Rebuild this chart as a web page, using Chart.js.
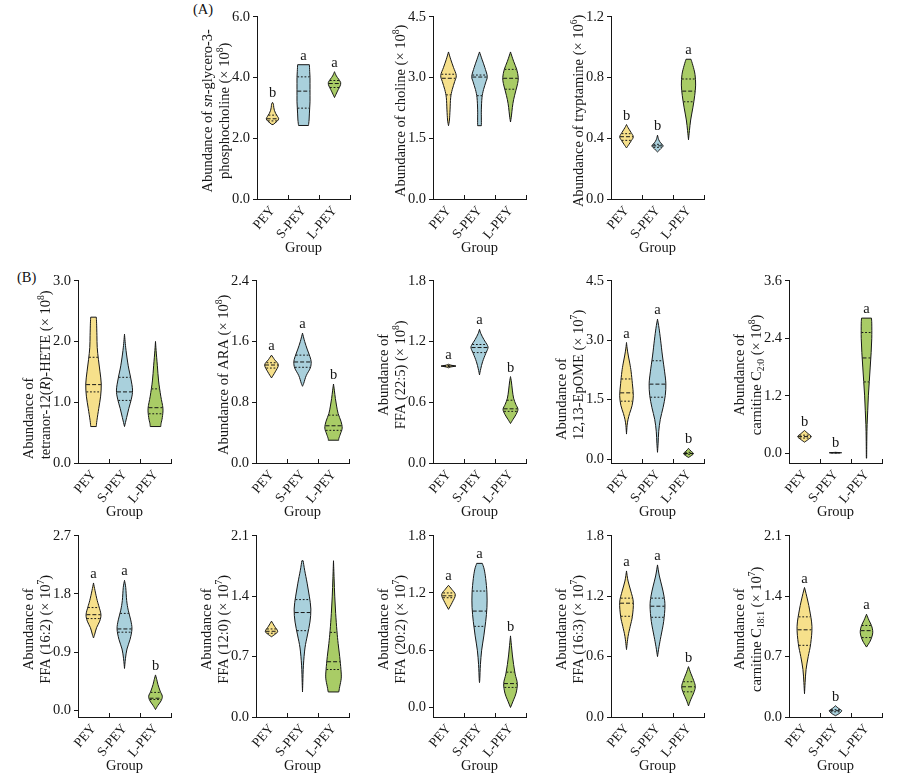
<!DOCTYPE html>
<html><head><meta charset="utf-8">
<script src="https://cdn.jsdelivr.net/npm/chart.js@4.4.0/dist/chart.umd.min.js"></script>
<style>
html,body{margin:0;padding:0;background:#fff;}
#wrap{position:relative;width:900px;height:776px;overflow:hidden;background:#fff;}
#wrap canvas{position:absolute;}
.panel{position:absolute;font:14.5px "Liberation Serif","Times New Roman",serif;color:#111;line-height:16px;}
</style></head><body><div id="wrap">
<div class="panel" style="left:193px;top:1px">(A)</div>
<div class="panel" style="left:17px;top:269px">(B)</div>
</div>
<script>
const FONT = "'Liberation Serif','Times New Roman',serif";
const groups = ['PEY', 'S-PEY', 'L-PEY'];

// (A) sn-glycero-3-phosphocholine
const gpcTitle = ['Abundance of *sn*-glycero-3-', 'phosphocholine (× 10^{8})'];
const gpcRange = [0, 6];
const gpcTicks = [0, 2, 4, 6];
const gpcLevels = [[2.45,2.5,2.56,2.64,2.72,2.82,2.92,3.02,3.12,3.18],[2.42,2.6,2.8,3.0,3.2,3.4,3.6,3.8,4.0,4.2,4.42],[3.34,3.45,3.6,3.72,3.83,3.95,4.05,4.19]];
const gpcWidths = [[0.02,0.08,0.15,0.2,0.16,0.1,0.06,0.04,0.03,0.0],[0.16,0.18,0.19,0.2,0.21,0.21,0.21,0.21,0.21,0.2,0.19],[0.0,0.05,0.12,0.18,0.2,0.13,0.06,0.0]];
const gpcQuartiles = [[2.57,2.64,2.76],[2.99,3.55,4.02],[3.67,3.8,3.9]];
const gpcLetters = ['b','a','a'];

// (A) choline
const chlTitle = ['Abundance of choline (× 10^{8})'];
const chlRange = [0, 4.5];
const chlTicks = [0, 1.5, 3, 4.5];
const chlLevels = [[1.81,1.95,2.2,2.5,2.7,2.9,3.05,3.25,3.45,3.63],[1.81,2.0,2.2,2.5,2.7,2.9,3.03,3.25,3.45,3.63],[1.9,2.05,2.26,2.45,2.67,2.85,3.0,3.2,3.4,3.63]];
const chlWidths = [[0.0,0.03,0.05,0.07,0.12,0.2,0.25,0.16,0.07,0.0],[0.06,0.06,0.06,0.08,0.13,0.21,0.25,0.17,0.08,0.0],[0.0,0.03,0.06,0.1,0.17,0.23,0.25,0.2,0.1,0.0]];
const chlQuartiles = [[2.57,2.98,3.08],[2.55,3.01,3.06],[2.71,2.98,3.2]];
const chlLetters = ['','',''];

// (A) tryptamine
const trpTitle = ['Abundance of tryptamine (× 10^{6})'];
const trpRange = [0, 1.2];
const trpTicks = [0, 0.4, 0.8, 1.2];
const trpLevels = [[0.336,0.36,0.385,0.41,0.44,0.47,0.49],[0.31,0.33,0.35,0.37,0.39,0.42],[0.39,0.45,0.52,0.6,0.68,0.75,0.82,0.88,0.92]];
const trpWidths = [[0.0,0.08,0.16,0.22,0.14,0.05,0.0],[0.0,0.1,0.18,0.1,0.04,0.0],[0.0,0.03,0.07,0.14,0.2,0.23,0.21,0.14,0.08]];
const trpQuartiles = [[0.386,0.41,0.43],[0.34,0.35,0.36],[0.64,0.71,0.79]];
const trpLetters = ['b','b','a'];

// (B) tetranor-12(R)-HETE
const heteTitle = ['Abundance of', 'tetranor-12(*R*)-HETE (× 10^{8})'];
const heteRange = [0, 3];
const heteTicks = [0, 1, 2, 3];
const heteLevels = [[0.6,0.7,0.9,1.1,1.3,1.5,1.7,1.9,2.1,2.3,2.4],[0.6,0.75,0.9,1.05,1.2,1.4,1.6,1.85,2.0,2.12],[0.6,0.65,0.75,0.9,1.1,1.35,1.6,1.85,2.0]];
const heteWidths = [[0.09,0.11,0.17,0.23,0.25,0.21,0.16,0.12,0.11,0.1,0.09],[0.0,0.07,0.14,0.22,0.26,0.2,0.12,0.05,0.02,0.0],[0.17,0.18,0.22,0.24,0.17,0.1,0.06,0.02,0.0]];
const heteQuartiles = [[1.17,1.29,1.74],[1.03,1.17,1.41],[0.81,0.91,1.22]];
const heteLetters = ['','',''];

// (B) ARA
const araTitle = ['Abundance of ARA (× 10^{8})'];
const araRange = [0, 2.4];
const araTicks = [0, 0.8, 1.6, 2.4];
const araLevels = [[1.12,1.2,1.29,1.36,1.42],[1.01,1.05,1.15,1.25,1.33,1.4,1.5,1.6,1.71],[0.3,0.32,0.38,0.46,0.55,0.65,0.75,0.85,0.95,1.04]];
const araWidths = [[0.0,0.12,0.22,0.1,0.0],[0.0,0.04,0.12,0.25,0.28,0.24,0.15,0.07,0.0],[0.17,0.17,0.22,0.28,0.24,0.15,0.1,0.06,0.03,0.0]];
const araQuartiles = [[1.25,1.29,1.32],[1.26,1.33,1.42],[0.43,0.49,0.63]];
const araLetters = ['a','a','b'];

// (B) FFA (22:5)
const f225Title = ['Abundance of', 'FFA (22:5) (× 10^{8})'];
const f225Range = [0, 1.8];
const f225Ticks = [0, 0.6, 1.2, 1.8];
const f225Levels = [[0.94,0.95,0.957,0.965,0.975],[0.87,0.93,1.0,1.08,1.13,1.16,1.22,1.28,1.32],[0.39,0.43,0.48,0.53,0.58,0.64,0.72,0.8,0.853]];
const f225Widths = [[0.0,0.1,0.24,0.1,0.0],[0.0,0.04,0.1,0.2,0.27,0.26,0.14,0.04,0.0],[0.0,0.08,0.18,0.24,0.17,0.1,0.06,0.03,0.0]];
const f225Quartiles = [[0.952,0.957,0.962],[1.09,1.14,1.17],[0.51,0.535,0.62]];
const f225Letters = ['a','a','b'];

// (B) 12,13-EpOME
const epoTitle = ['Abundance of', '12,13-EpOME (× 10^{7})'];
const epoRange = [-0.1, 4.5];
const epoTicks = [0, 1.5, 3, 4.5];
const epoLevels = [[0.63,0.85,1.0,1.15,1.35,1.6,1.9,2.2,2.4,2.6,2.8,2.94],[0.17,0.4,0.7,1.0,1.3,1.6,1.9,2.2,2.6,3.0,3.3,3.53],[0.04,0.09,0.14,0.2,0.27]];
const epoWidths = [[0.0,0.02,0.05,0.1,0.18,0.22,0.19,0.15,0.11,0.06,0.02,0.0],[0.0,0.02,0.04,0.09,0.18,0.25,0.27,0.23,0.16,0.1,0.05,0.0],[0.0,0.1,0.16,0.08,0.0]];
const epoQuartiles = [[1.46,1.67,2.02],[1.56,1.89,2.48],[0.12,0.14,0.17]];
const epoLetters = ['a','a','b'];

// (B) carnitine C2:0
const c20Title = ['Abundance of', 'carnitine C_{2:0} (× 10^{8})'];
const c20Range = [-0.2, 3.6];
const c20Ticks = [0, 1.2, 2.4, 3.6];
const c20Levels = [[0.235,0.29,0.35,0.41,0.477],[0.005,0.01,0.014,0.018,0.023],[-0.1,0.3,0.6,0.9,1.2,1.5,1.8,2.1,2.4,2.7,2.82]];
const c20Widths = [[0.0,0.12,0.22,0.12,0.0],[0.0,0.1,0.2,0.1,0.0],[0.005,0.01,0.02,0.04,0.06,0.09,0.12,0.15,0.17,0.17,0.16]];
const c20Quartiles = [[0.32,0.35,0.38],[0.012,0.014,0.016],[1.49,1.99,2.52]];
const c20Letters = ['b','b','a'];

// (B) FFA (16:2)
const f162Title = ['Abundance of', 'FFA (16:2) (× 10^{7})'];
const f162Range = [-0.1, 2.7];
const f162Ticks = [0, 0.9, 1.8, 2.7];
const f162Levels = [[1.12,1.18,1.28,1.38,1.48,1.6,1.7,1.85,1.97],[0.65,0.8,0.95,1.1,1.26,1.4,1.55,1.7,1.9,2.01],[0.015,0.08,0.15,0.22,0.3,0.4,0.48,0.55]];
const f162Widths = [[0.0,0.04,0.1,0.2,0.24,0.18,0.12,0.05,0.0],[0.0,0.03,0.08,0.18,0.24,0.2,0.12,0.07,0.04,0.0],[0.0,0.08,0.18,0.22,0.15,0.08,0.04,0.0]];
const f162Quartiles = [[1.42,1.48,1.59],[1.21,1.26,1.5],[0.17,0.19,0.28]];
const f162Letters = ['a','a','b'];

// (B) FFA (12:0)
const f120Title = ['Abundance of', 'FFA (12:0) (× 10^{7})'];
const f120Range = [0, 2.1];
const f120Ticks = [0, 0.7, 1.4, 2.1];
const f120Levels = [[0.93,0.96,0.993,1.05,1.11],[0.29,0.4,0.6,0.8,0.95,1.1,1.25,1.4,1.55,1.7,1.81],[0.29,0.35,0.45,0.55,0.7,0.85,1.0,1.2,1.4,1.6,1.81]];
const f120Widths = [[0.0,0.12,0.2,0.1,0.0],[0.0,0.01,0.03,0.08,0.16,0.24,0.27,0.22,0.15,0.07,0.02],[0.17,0.2,0.25,0.24,0.2,0.15,0.11,0.07,0.04,0.02,0.0]];
const f120Quartiles = [[0.97,0.993,1.02],[1.0,1.21,1.36],[0.55,0.64,0.98]];
const f120Letters = ['','',''];

// (B) FFA (20:2)
const f202Title = ['Abundance of', 'FFA (20:2) (× 10^{7})'];
const f202Range = [-0.1, 1.8];
const f202Ticks = [0, 0.6, 1.2, 1.8];
const f202Levels = [[1.028,1.1,1.18,1.24,1.28],[0.26,0.3,0.45,0.6,0.75,0.9,1.05,1.2,1.35,1.45,1.51],[0.0,0.08,0.15,0.25,0.35,0.45,0.55,0.65,0.75]];
const f202Widths = [[0.0,0.12,0.22,0.1,0.0],[0.0,0.01,0.03,0.07,0.14,0.2,0.24,0.24,0.2,0.15,0.09],[0.0,0.1,0.18,0.22,0.15,0.1,0.06,0.03,0.0]];
const f202Quartiles = [[1.15,1.17,1.2],[0.85,1.01,1.22],[0.21,0.25,0.37]];
const f202Letters = ['a','a','b'];

// (B) FFA (16:3)
const f163Title = ['Abundance of', 'FFA (16:3) (× 10^{7})'];
const f163Range = [0, 1.8];
const f163Ticks = [0, 0.6, 1.2, 1.8];
const f163Levels = [[0.67,0.8,0.9,1.0,1.14,1.25,1.35,1.45],[0.6,0.7,0.8,0.95,1.1,1.2,1.3,1.4,1.51],[0.11,0.17,0.24,0.3,0.36,0.43,0.5]];
const f163Widths = [[0.0,0.05,0.12,0.19,0.22,0.14,0.05,0.0],[0.0,0.05,0.11,0.2,0.24,0.21,0.14,0.06,0.0],[0.0,0.07,0.17,0.22,0.17,0.08,0.0]];
const f163Quartiles = [[1.0,1.13,1.18],[0.99,1.1,1.18],[0.25,0.3,0.35]];
const f163Letters = ['a','a','b'];

// (B) carnitine C18:1
const c181Title = ['Abundance of', 'carnitine C_{18:1} (× 10^{7})'];
const c181Range = [0, 2.1];
const c181Ticks = [0, 0.7, 1.4, 2.1];
const c181Levels = [[0.27,0.4,0.55,0.7,0.85,1.05,1.25,1.4,1.5],[0.015,0.04,0.073,0.1,0.13],[0.81,0.88,0.95,1.0,1.06,1.12,1.19]];
const c181Widths = [[0.0,0.02,0.05,0.12,0.2,0.24,0.16,0.07,0.0],[0.0,0.12,0.2,0.1,0.0],[0.0,0.12,0.19,0.2,0.16,0.08,0.0]];
const c181Quartiles = [[0.83,1.01,1.16],[0.06,0.073,0.085],[0.92,1.0,1.06]];
const c181Letters = ['a','b','a'];

// ---- assembly (styles & positions kept separate) ----
const panels = [
  {title: gpcTitle, range: gpcRange, ticks: gpcTicks, levels: gpcLevels, widths: gpcWidths, quart: gpcQuartiles, letters: gpcLetters},
  {title: chlTitle, range: chlRange, ticks: chlTicks, levels: chlLevels, widths: chlWidths, quart: chlQuartiles, letters: chlLetters},
  {title: trpTitle, range: trpRange, ticks: trpTicks, levels: trpLevels, widths: trpWidths, quart: trpQuartiles, letters: trpLetters},
  {title: heteTitle, range: heteRange, ticks: heteTicks, levels: heteLevels, widths: heteWidths, quart: heteQuartiles, letters: heteLetters},
  {title: araTitle, range: araRange, ticks: araTicks, levels: araLevels, widths: araWidths, quart: araQuartiles, letters: araLetters},
  {title: f225Title, range: f225Range, ticks: f225Ticks, levels: f225Levels, widths: f225Widths, quart: f225Quartiles, letters: f225Letters},
  {title: epoTitle, range: epoRange, ticks: epoTicks, levels: epoLevels, widths: epoWidths, quart: epoQuartiles, letters: epoLetters},
  {title: c20Title, range: c20Range, ticks: c20Ticks, levels: c20Levels, widths: c20Widths, quart: c20Quartiles, letters: c20Letters},
  {title: f162Title, range: f162Range, ticks: f162Ticks, levels: f162Levels, widths: f162Widths, quart: f162Quartiles, letters: f162Letters},
  {title: f120Title, range: f120Range, ticks: f120Ticks, levels: f120Levels, widths: f120Widths, quart: f120Quartiles, letters: f120Letters},
  {title: f202Title, range: f202Range, ticks: f202Ticks, levels: f202Levels, widths: f202Widths, quart: f202Quartiles, letters: f202Letters},
  {title: f163Title, range: f163Range, ticks: f163Ticks, levels: f163Levels, widths: f163Widths, quart: f163Quartiles, letters: f163Letters},
  {title: c181Title, range: c181Range, ticks: c181Ticks, levels: c181Levels, widths: c181Widths, quart: c181Quartiles, letters: c181Letters}
];
const placement = [
  {x:257, y:15, h:184}, {x:433, y:15, h:184}, {x:611, y:15, h:184},
  {x:78, y:279, h:184, align:'start'}, {x:256, y:279, h:184}, {x:433, y:279, h:184}, {x:611, y:279, h:184, align:'start'}, {x:789, y:279, h:184},
  {x:78, y:534, h:183}, {x:256, y:534, h:183}, {x:433, y:534, h:183}, {x:611, y:534, h:183}, {x:789, y:534, h:183}
];
const FILLS = ['#f6e08b', '#a9d0dc', '#a9cc66'];
const INK = '#161616';
const FS = 14.5;
const XFS = 13.5;
const YW = 75, PW = 93, CW = 176, CH = 258, PT = 10, XH = 58;

function parseRich(str) {
  const segs = []; let buf = '', it = false, i = 0;
  while (i < str.length) {
    const ch = str[i];
    if (ch === '*') { if (buf) segs.push({t: buf, it, sh: 0}); buf = ''; it = !it; i++; continue; }
    if ((ch === '^' || ch === '_') && str[i + 1] === '{') {
      if (buf) segs.push({t: buf, it, sh: 0}); buf = '';
      const end = str.indexOf('}', i);
      segs.push({t: str.slice(i + 2, end), it, sh: ch === '^' ? -1 : 1});
      i = end + 1; continue;
    }
    buf += ch; i++;
  }
  if (buf) segs.push({t: buf, it, sh: 0});
  return segs;
}
function segFont(s) { return (s.it ? 'italic ' : '') + (s.sh ? FS * 0.66 : FS) + 'px ' + FONT; }
function richWidth(ctx, segs) {
  let w = 0; segs.forEach(s => { ctx.font = segFont(s); w += ctx.measureText(s.t).width; }); return w;
}
function drawRich(ctx, segs, x0) {
  let x = x0;
  segs.forEach(s => {
    ctx.font = segFont(s);
    const dy = s.sh === -1 ? -FS * 0.4 : (s.sh === 1 ? FS * 0.22 : 0);
    ctx.fillText(s.t, x, dy);
    x += ctx.measureText(s.t).width;
  });
}
function interp(lv, wd, q) {
  if (q <= lv[0]) return wd[0];
  for (let k = 1; k < lv.length; k++) {
    if (q <= lv[k]) { const t = (q - lv[k-1]) / (lv[k] - lv[k-1]); return wd[k-1] + t * (wd[k] - wd[k-1]); }
  }
  return wd[wd.length - 1];
}
function curve(ctx, P) {
  for (let i = 0; i < P.length - 1; i++) {
    const p0 = P[Math.max(i - 1, 0)], p1 = P[i], p2 = P[i + 1], p3 = P[Math.min(i + 2, P.length - 1)];
    ctx.bezierCurveTo(p1.x + (p2.x - p0.x) / 6, p1.y + (p2.y - p0.y) / 6,
                      p2.x - (p3.x - p1.x) / 6, p2.y - (p3.y - p1.y) / 6, p2.x, p2.y);
  }
}

function drawPanel(chart, def, pl) {
  const ctx = chart.ctx, xs = chart.scales.x, ys = chart.scales.y, area = chart.chartArea;
  const cw = xs.getPixelForValue(1) - xs.getPixelForValue(0);
  ctx.save();
  ctx.strokeStyle = INK; ctx.lineWidth = 1;
  for (let i = 0; i < groups.length; i++) {
    const bx = Math.round(xs.getPixelForValue(i) + cw / 2) + 0.5;
    ctx.beginPath(); ctx.moveTo(bx, area.bottom); ctx.lineTo(bx, area.bottom - 4); ctx.stroke();
  }
  def.levels.forEach((lv, g) => {
    const wd = def.widths[g];
    const cx = xs.getPixelForValue(g);
    const left = lv.map((v, k) => ({x: cx - wd[k] * cw, y: ys.getPixelForValue(v)}));
    const right = lv.map((v, k) => ({x: cx + wd[k] * cw, y: ys.getPixelForValue(v)})).reverse();
    ctx.beginPath();
    ctx.moveTo(left[0].x, left[0].y);
    curve(ctx, left);
    ctx.lineTo(right[0].x, right[0].y);
    curve(ctx, right);
    ctx.closePath();
    ctx.fillStyle = FILLS[g]; ctx.fill();
    ctx.lineWidth = 1; ctx.strokeStyle = INK; ctx.lineJoin = 'round'; ctx.stroke();
    def.quart[g].forEach((q, k) => {
      const w = Math.max(interp(lv, wd, q) * cw - 0.3, 0.5);
      const y = ys.getPixelForValue(q);
      ctx.setLineDash(k === 1 ? [4, 2] : [1.8, 1.8]);
      ctx.beginPath(); ctx.moveTo(cx - w, y); ctx.lineTo(cx + w, y); ctx.stroke();
    });
    ctx.setLineDash([]);
    const letter = def.letters[g];
    if (letter) {
      ctx.fillStyle = INK; ctx.font = FS + 'px ' + FONT; ctx.textAlign = 'center'; ctx.textBaseline = 'alphabetic';
      ctx.fillText(letter, cx, ys.getPixelForValue(lv[lv.length - 1]) - 5);
    }
  });
  const segsList = def.title.map(parseRich);
  const widths = segsList.map(s => richWidth(ctx, s));
  const maxW = Math.max(...widths);
  const cy = (area.top + area.bottom) / 2 + 3;
  const xPos = def.title.length === 2 ? [area.left - 50, area.left - 33] : [area.left - 33];
  ctx.fillStyle = INK; ctx.textAlign = 'left'; ctx.textBaseline = 'alphabetic';
  segsList.forEach((segs, i) => {
    ctx.save();
    ctx.translate(xPos[i] + 4.5, cy);
    ctx.rotate(-Math.PI / 2);
    const start = pl.align === 'start' ? -maxW / 2 : -widths[i] / 2;
    drawRich(ctx, segs, start);
    ctx.restore();
  });
  ctx.restore();
}

const wrap = document.getElementById('wrap');
panels.forEach((def, idx) => {
  const pl = placement[idx];
  const c = document.createElement('canvas');
  c.width = CW; c.height = CH;
  c.style.width = CW + 'px'; c.style.height = CH + 'px';
  c.style.left = Math.round(pl.x - YW) + 'px';
  c.style.top = Math.round(pl.y - PT) + 'px';
  wrap.appendChild(c);
  const padBottom = CH - PT - pl.h - XH;
  new Chart(c, {
    type: 'line',
    data: {
      labels: groups,
      datasets: [{data: def.quart.map(q => q[1]), showLine: false, pointRadius: 0, pointHoverRadius: 0}]
    },
    options: {
      responsive: false, animation: false, devicePixelRatio: 1,
      events: [],
      layout: {padding: {left: 0, top: PT, right: CW - YW - PW, bottom: padBottom}},
      plugins: {legend: {display: false}, tooltip: {enabled: false}},
      scales: {
        x: {
          type: 'category', offset: true,
          grid: {display: false, drawTicks: false, offset: true},
          border: {display: true, color: INK, width: 1},
          ticks: {color: INK, font: {family: FONT, size: XFS}, minRotation: 50, maxRotation: 50, padding: 4, autoSkip: false},
          title: {display: true, text: 'Group', color: INK, font: {family: FONT, size: FS}, padding: 0},
          afterFit: s => { s.height = XH; }
        },
        y: {
          min: def.range[0], max: def.range[1],
          grid: {display: true, drawOnChartArea: false, drawTicks: true, tickLength: 4, color: INK, tickColor: INK, lineWidth: 1},
          border: {display: true, color: INK, width: 1},
          ticks: {color: INK, font: {family: FONT, size: FS}, padding: 3, callback: v => Number(v).toFixed(1)},
          afterBuildTicks: s => { s.ticks = def.ticks.map(v => ({value: v})); },
          afterFit: s => { s.width = YW; }
        }
      }
    },
    plugins: [{id: 'violin' + idx, afterDraw: chart => drawPanel(chart, def, pl)}]
  });
});
</script>
</body></html>
